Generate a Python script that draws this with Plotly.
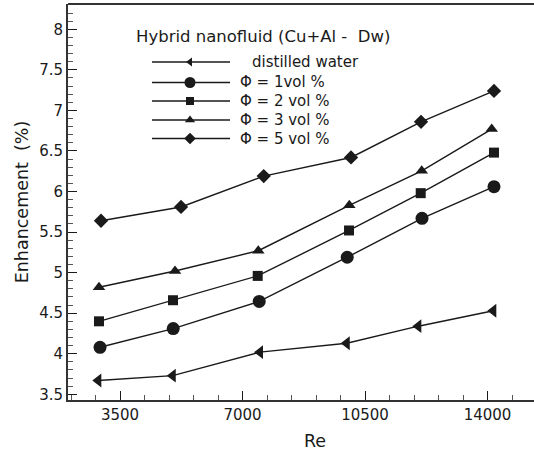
import plotly.graph_objects as go

# ---------------- data ----------------
series_names = ["distilled water", "\u03a6 = 1vol %", "\u03a6 = 2 vol %",
                "\u03a6 = 3 vol %", "\u03a6 = 5 vol %"]
re_water = [2880, 5006, 7500, 9977, 12023, 14166]
enh_water = [3.67, 3.73, 4.02, 4.13, 4.34, 4.53]
re_phi1 = [2929, 5020, 7477, 9991, 12128, 14185]
enh_phi1 = [4.08, 4.31, 4.645, 5.19, 5.67, 6.06]
re_phi2 = [2900, 5014, 7434, 10043, 12091, 14185]
enh_phi2 = [4.40, 4.66, 4.96, 5.52, 5.98, 6.48]
re_phi3 = [2900, 5071, 7451, 10051, 12120, 14120]
enh_phi3 = [4.82, 5.02, 5.27, 5.83, 6.255, 6.77]
re_phi5 = [2957, 5243, 7606, 10100, 12100, 14185]
enh_phi5 = [5.64, 5.81, 6.19, 6.42, 6.86, 7.24]

x_tickvals = [3500, 7000, 10500, 14000]
x_ticktext = ["3500", "7000", "10500", "14000"]
legend_title = "Hybrid nanofluid (Cu+Al -\u00a0 Dw)"

# ---------------- style / layout ----------------
FONT = "DejaVu Sans, Liberation Sans, Arial, sans-serif"
INK = "#1a1a1a"
# the original frame runs past the right edge of the 534 px picture
W, H = 562, 452
ML, MR, MT, MB = 68, 0, 4, 52
PW, PH = W - ML - MR, H - MT - MB
X_LO, RE_PER_PX = 2014, 28.57
X_HI = X_LO + PW * RE_PER_PX
Y_LO, Y_HI = 3.43, 8.312

symbols = ["triangle-left", "circle", "square", "triangle-up", "diamond"]
sizes = [12, 13, 10, 11, 11]
leg_sizes = [8, 11, 8, 9, 9]

xs = [re_water, re_phi1, re_phi2, re_phi3, re_phi5]
ys = [enh_water, enh_phi1, enh_phi2, enh_phi3, enh_phi5]


def px_to_paper_x(px):
    return (px - ML) / PW


def px_to_paper_y(py):
    return (H - MB - py) / PH


def px_to_data_x(px):
    return X_LO + (px - ML) * RE_PER_PX


def px_to_data_y(py):
    return Y_HI - (py - MT) * (Y_HI - Y_LO) / PH


fig = go.Figure()
for name, x, y, sym, sz in zip(series_names, xs, ys, symbols, sizes):
    fig.add_trace(go.Scatter(
        x=x, y=y, mode="lines+markers", name=name, showlegend=False,
        line=dict(color=INK, width=1.4),
        marker=dict(symbol=sym, size=sz, color=INK, line=dict(width=0)),
    ))

# ---------------- hand-made legend (layout positions in figure pixels) ----------------
leg_x0, leg_xm, leg_x1 = 152, 190, 230
leg_rows = [62, 82.5, 101, 120, 138.5]
leg_text_x = [250, 238, 238, 238, 238]
shapes = []
for i, (name, sym, lsz) in enumerate(zip(series_names, symbols, leg_sizes)):
    yy = leg_rows[i]
    shapes.append(dict(type="line", xref="paper", yref="paper",
                       x0=px_to_paper_x(leg_x0), x1=px_to_paper_x(leg_x1),
                       y0=px_to_paper_y(yy), y1=px_to_paper_y(yy),
                       line=dict(color=INK, width=1.4), layer="below"))
    fig.add_trace(go.Scatter(
        x=[px_to_data_x(leg_xm)], y=[px_to_data_y(yy)], mode="markers",
        showlegend=False, hoverinfo="skip",
        marker=dict(symbol=sym, size=lsz, color=INK, line=dict(width=0))))
    fig.add_annotation(x=px_to_paper_x(leg_text_x[i]), y=px_to_paper_y(yy),
                       xref="paper", yref="paper", text=name,
                       showarrow=False, xanchor="left", yanchor="middle",
                       font=dict(family=FONT, size=15, color=INK))

fig.add_annotation(x=px_to_paper_x(134), y=px_to_paper_y(36.5),
                   xref="paper", yref="paper", text=legend_title,
                   showarrow=False, xanchor="left", yanchor="middle",
                   font=dict(family=FONT, size=16.5, color=INK))

# top frame line
shapes.append(dict(type="line", xref="paper", yref="paper", x0=0, x1=1,
                   y0=1, y1=1, line=dict(color="#333", width=2)))

fig.update_layout(
    width=W, height=H, margin=dict(l=ML, r=MR, t=MT, b=MB),
    paper_bgcolor="white", plot_bgcolor="white",
    font=dict(family=FONT, size=15, color=INK),
    shapes=shapes,
    xaxis=dict(
        range=[X_LO, X_HI], tickmode="array", tickvals=x_tickvals,
        ticktext=x_ticktext, ticks="inside", ticklen=9, tickwidth=1.3,
        tickcolor=INK, showgrid=False, zeroline=False,
        showline=True, linewidth=2, linecolor="#333", mirror=False,
        minor=dict(ticks="inside", dtick=700, tick0=0, ticklen=5,
                   tickwidth=1, tickcolor="#555", showgrid=False),
        title=dict(text="Re", font=dict(size=17.5), standoff=12),
        tickfont=dict(size=15), fixedrange=True, automargin=False,
    ),
    yaxis=dict(
        range=[Y_LO, Y_HI], tick0=3.5, dtick=0.5, ticks="inside",
        ticklen=9, tickwidth=1.3, tickcolor=INK,
        showgrid=False, zeroline=False,
        showline=True, linewidth=2, linecolor="#333", mirror=False,
        minor=dict(ticks="inside", dtick=0.1, tick0=3.5, ticklen=5,
                   tickwidth=1, tickcolor="#555", showgrid=False),
        title=dict(text="Enhancement\u00a0 (%)", font=dict(size=17.5), standoff=6),
        tickfont=dict(size=15), fixedrange=True, automargin=False,
    ),
)

fig.write_html(
    "out.html",
    config={"displayModeBar": False},
    post_script="document.body.style.margin='0';document.body.style.padding='0';"
                "document.documentElement.style.overflow='hidden';"
                "document.body.style.overflow='hidden';",
)
